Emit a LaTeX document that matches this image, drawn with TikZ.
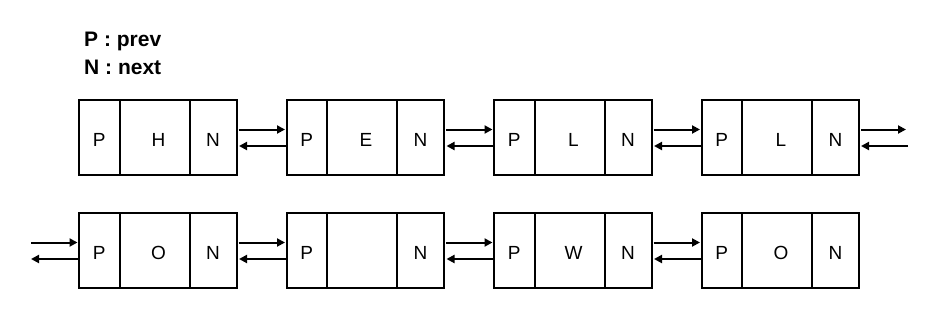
\documentclass[tikz,border=0pt]{standalone}
\usepackage{fontspec}
\setmainfont{Liberation Sans}
\usetikzlibrary{arrows.meta}
\begin{document}
\begin{tikzpicture}[x=1pt,y=-1pt,
  cell/.style={draw, line width=2pt, inner sep=0pt, outer sep=0pt, minimum height=75pt, anchor=west, text height=18pt, text depth=0pt, font=\fontsize{19}{20}\selectfont},
  pcell/.style={cell, minimum width=40.5pt},
  dcell/.style={cell, minimum width=70pt},
  ncell/.style={cell, minimum width=47pt},
  link/.style={line width=2pt, -{Triangle[length=8pt,width=8pt]}},
  title/.style={anchor=base west, inner sep=0pt, font=\fontsize{21}{22}\selectfont\bfseries}
]
\useasboundingbox (0,0) rectangle (940,327);
\node[title] (t1) at (84,46.7) {P : prev};
\node[title] (t2) at (84,74) {N : next};
% row 1
\foreach \i/\x/\l in {1/79/H,2/286.5/E,3/494/L,4/701.5/L}{
  \node[pcell] (a\i p) at (\x,137.5) {P};
  \node[dcell] (a\i d) at (a\i p.east) {\hspace*{8pt}\l};
  \node[ncell] (a\i n) at (a\i d.east) {N};
}
% row 2
\foreach \i/\x/\l in {1/79/O,2/286.5/,3/494/W,4/701.5/O}{
  \node[pcell] (b\i p) at (\x,250.5) {P};
  \node[dcell] (b\i d) at (b\i p.east) {\hspace*{8pt}\l};
  \node[ncell] (b\i n) at (b\i d.east) {N};
}
\foreach \r in {a,b}{
  \foreach \i/\j in {1/2,2/3,3/4}{
    \draw[link, shorten <=2pt, shorten >=1.5pt] ([yshift=8pt]\r\i n.east) -- ([yshift=8pt]\r\j p.west);
    \draw[link, shorten <=0pt, shorten >=2.5pt] ([yshift=-8.5pt]\r\j p.west) -- ([yshift=-8.5pt]\r\i n.east);
  }
}
\coordinate (ra) at (906,129.5);
\coordinate (rb) at (908,146);
\draw[link, shorten <=2pt] ([yshift=8pt]a4n.east) -- (ra);
\draw[link, shorten >=2pt] (rb) -- ([yshift=-8.5pt]a4n.east);
\coordinate (la) at (31,242.5);
\coordinate (lb) at (31,259);
\draw[link, shorten >=1.5pt] (la) -- ([yshift=8pt]b1p.west);
\draw[link] ([yshift=-8.5pt]b1p.west) -- (lb);
\end{tikzpicture}
\end{document}
